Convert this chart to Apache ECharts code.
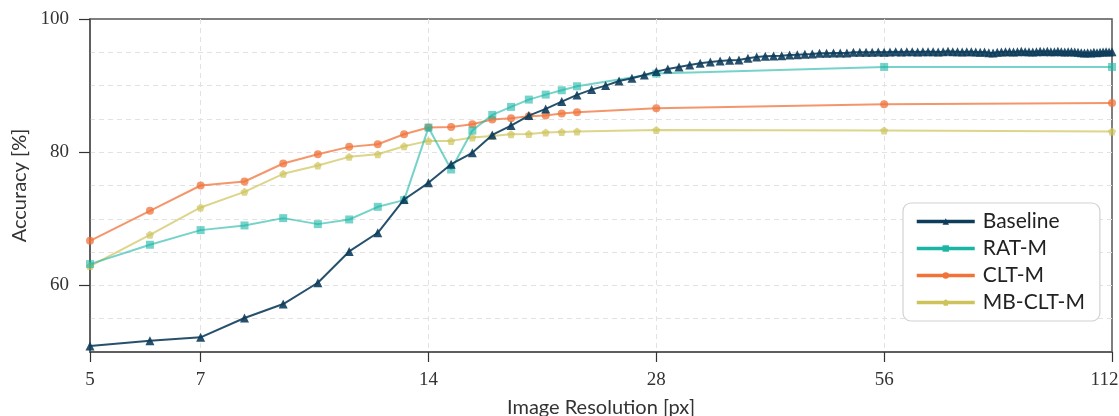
<!DOCTYPE html>
<html>
<head>
<meta charset="utf-8">
<title>Accuracy vs Image Resolution</title>
<script src="https://cdn.jsdelivr.net/npm/echarts@6/dist/echarts.min.js"></script>
<style>
  html, body { margin: 0; padding: 0; background: #fff; }
  #chart { width: 1119px; height: 416px; }
</style>
</head>
<body>
<div id="chart"></div>
<script>
// resolutions (px)
const baselineRes = [
  5, 6, 7, 8, 9, 10, 11, 12, 13, 14, 15, 16, 17, 18, 19, 20, 21, 22, 23, 24,
  25, 26, 27, 28, 29, 30, 31, 32, 33, 34, 35, 36, 37, 38, 39, 40, 41, 42, 43, 44,
  45, 46, 47, 48, 49, 50, 51, 52, 53, 54, 55, 56, 57, 58, 59, 60, 61, 62, 63, 64,
  65, 66, 67, 68, 69, 70, 71, 72, 73, 74, 75, 76, 77, 78, 79, 80, 81, 82, 83, 84,
  85, 86, 87, 88, 89, 90, 91, 92, 93, 94, 95, 96, 97, 98, 99, 100, 101, 102, 103, 104,
  105, 106, 107, 108, 109, 110, 111, 112
];
const modelRes = [5, 6, 7, 8, 9, 10, 11, 12, 13, 14, 15, 16, 17, 18, 19, 20, 21, 22, 28, 56, 112];

// accuracy (%)
const baselineAcc = [
  50.9, 51.7, 52.2, 55.1, 57.2, 60.4, 65.1, 67.9, 72.9, 75.4, 78.2, 79.9, 82.6, 84.0, 85.5, 86.5, 87.6, 88.6, 89.4, 90.0,
  90.7, 91.1, 91.6, 92.1, 92.5, 92.8, 93.1, 93.35, 93.55, 93.7, 93.8, 93.85, 94.1, 94.3, 94.4, 94.45, 94.5, 94.6, 94.65, 94.7,
  94.75, 94.85, 94.85, 94.9, 94.9, 94.9, 95.0, 95.0, 95.0, 95.0, 95.05, 95.0, 95.05, 95.1, 95.05, 95.1, 95.1, 95.05, 95.1, 95.1,
  95.1, 95.05, 95.1, 95.15, 95.1, 95.1, 95.05, 95.1, 95.1, 95.05, 95.0, 95.05, 94.95, 94.9, 95.0, 95.05, 95.1, 95.1, 95.05, 95.1,
  95.15, 95.1, 95.1, 95.05, 95.1, 95.15, 95.1, 95.15, 95.1, 95.1, 95.15, 95.1, 95.05, 95.1, 95.1, 95.05, 95.0, 94.95, 94.9, 94.95,
  94.9, 95.0, 94.95, 95.0, 95.05, 95.1, 95.05, 95.1
];
const ratAcc = [63.2, 66.1, 68.3, 69.0, 70.1, 69.2, 69.9, 71.8, 72.8, 83.7, 77.4, 83.25, 85.6, 86.8, 87.9, 88.65, 89.3, 89.9, 91.8, 92.8, 92.8];
const cltAcc = [66.7, 71.2, 75.0, 75.6, 78.3, 79.7, 80.8, 81.2, 82.7, 83.7, 83.8, 84.2, 84.9, 85.1, 85.4, 85.5, 85.8, 86.0, 86.6, 87.2, 87.4];
const mbCltAcc = [62.9, 67.6, 71.7, 74.05, 76.75, 78.0, 79.3, 79.7, 80.9, 81.7, 81.7, 82.2, 82.45, 82.7, 82.75, 82.95, 83.05, 83.1, 83.35, 83.25, 83.1];

// axis ticks
const xTicks = [5, 7, 14, 28, 56, 112];
const yTicks = [60, 80, 100];

const serifFont = 'Liberation Serif';
const sansFont = 'Lato';
const gridDash = { color: '#e2e2e2', width: 1, type: [5, 4] };
const pentagon = 'path://M0,-1 L0.951,-0.309 L0.588,0.809 L-0.588,0.809 L-0.951,-0.309 Z';

function pairs(xs, ys) {
  return xs.map((x, i) => [x, ys[i]]);
}

function makeSeries(name, xs, ys, color, symbol, size, opacity, z) {
  return {
    name: name,
    type: 'line',
    data: pairs(xs, ys),
    symbol: symbol,
    symbolSize: size,
    z: z,
    color: color,
    lineStyle: { width: 2, color: color, opacity: opacity },
    itemStyle: { color: color, opacity: opacity },
    emphasis: { disabled: true },
    animation: false
  };
}

const chart = echarts.init(document.getElementById('chart'));

chart.setOption({
  backgroundColor: '#fff',
  animation: false,
  grid: {
    left: 90, right: 7, top: 19, bottom: 64,
    outerBoundsMode: 'none',
    containLabel: false,
    show: true, borderColor: '#555', borderWidth: 1.5
  },
  legend: {
    orient: 'vertical',
    left: 903, top: 203,
    padding: [8, 15, 8, 12],
    itemGap: 6,
    itemWidth: 58,
    itemHeight: 8,
    backgroundColor: '#fff',
    borderColor: '#d2d2d2',
    borderWidth: 1.2,
    borderRadius: 8,
    lineStyle: { width: 3.5, opacity: 1 },
    itemStyle: { opacity: 1 },
    textStyle: { fontFamily: sansFont, fontSize: 21, color: '#222', padding: [0, 0, 0, 3] },
    data: ['Baseline', 'RAT-M', 'CLT-M', 'MB-CLT-M']
  },
  xAxis: {
    type: 'log',
    logBase: 2,
    min: 5,
    max: 112,
    name: 'Image Resolution [px]',
    nameLocation: 'middle',
    nameGap: 46,
    nameTextStyle: { fontFamily: sansFont, fontSize: 20, color: '#333' },
    axisLine: { show: true, lineStyle: { color: '#555', width: 1.5 } },
    axisTick: { show: true, customValues: xTicks, length: 10, lineStyle: { color: '#333', width: 1.2 } },
    axisLabel: {
      customValues: xTicks,
      margin: 19,
      fontFamily: serifFont, fontSize: 19, color: '#333',
      // last label sits a bit left so it stays on the page
      formatter: (v) => Math.round(v) === 112 ? '{last|112}' : String(Math.round(v)),
      rich: { last: { fontFamily: serifFont, fontSize: 19, color: '#333', padding: [0, 15, 0, 0] } }
    },
    splitLine: { show: true, showMinLine: false, showMaxLine: false, lineStyle: gridDash },
    minorTick: { show: false },
    minorSplitLine: { show: false }
  },
  yAxis: [
    {
      // dashed grid every 5 %
      type: 'value',
      min: 50, max: 100, interval: 5,
      axisLine: { show: true, lineStyle: { color: '#555', width: 1.5 } },
      axisTick: { show: false },
      axisLabel: { show: false },
      splitLine: { show: true, showMinLine: false, showMaxLine: false, lineStyle: gridDash }
    },
    {
      // labelled ticks
      type: 'value',
      min: 50, max: 100, interval: 5,
      position: 'left',
      name: 'Accuracy [%]',
      nameLocation: 'middle',
      nameGap: 57,
      nameTextStyle: { fontFamily: sansFont, fontSize: 20, color: '#333' },
      axisLine: { show: false },
      axisTick: { show: true, customValues: yTicks, length: 11, lineStyle: { color: '#333', width: 1.2 } },
      axisLabel: { customValues: yTicks, margin: 21, fontFamily: serifFont, fontSize: 19, color: '#333' },
      splitLine: { show: false }
    }
  ],
  series: [
    makeSeries('Baseline', baselineRes, baselineAcc, '#0e3d5c', 'triangle', 9, 0.9, 5),
    makeSeries('RAT-M', modelRes, ratAcc, '#1bb5a6', 'rect', 8, 0.6, 4),
    makeSeries('CLT-M', modelRes, cltAcc, '#f0733a', 'circle', 8, 0.75, 3),
    makeSeries('MB-CLT-M', modelRes, mbCltAcc, '#cdc35a', pentagon, 8, 0.7, 2)
  ]
});
</script>
</body>
</html>
